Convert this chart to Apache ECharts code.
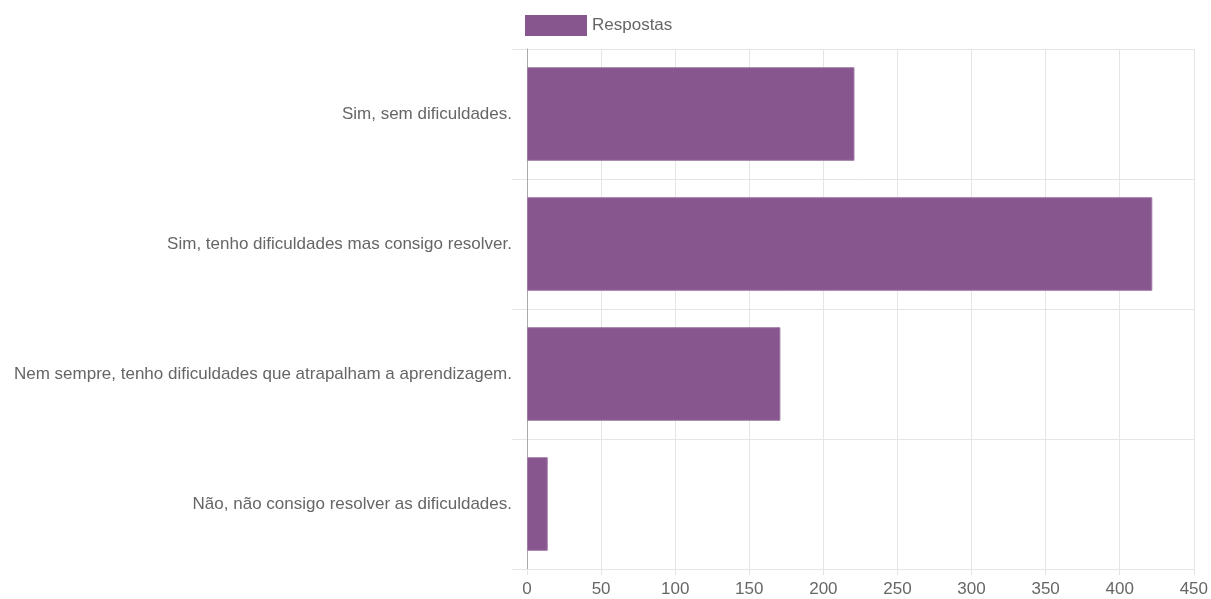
<!DOCTYPE html>
<html>
<head>
<meta charset="utf-8">
<script src="https://cdn.jsdelivr.net/npm/echarts@6/dist/echarts.min.js"></script>
<style>
  html, body { margin: 0; padding: 0; background: #fff; }
  #chart { width: 1211px; height: 599px; }
</style>
</head>
<body>
<div id="chart"></div>
<script>
// answers and counts
const categories = [
  'Sim, sem dificuldades.',
  'Sim, tenho dificuldades mas consigo resolver.',
  'Nem sempre, tenho dificuldades que atrapalham a aprendizagem.',
  'Não, não consigo resolver as dificuldades.'
];
const respostas = [221, 422, 171, 14];
const seriesName = 'Respostas';

const chart = echarts.init(document.getElementById('chart'));

const labelFont = { fontFamily: 'Liberation Sans, Arial, sans-serif', fontSize: 17, color: '#666' };

chart.setOption({
  animation: false,
  legend: {
    left: 525,
    top: 15,
    padding: 0,
    itemWidth: 62,
    itemHeight: 21,
    icon: 'rect',
    itemStyle: { borderWidth: 0 },
    textStyle: labelFont,
    data: [seriesName]
  },
  grid: { left: 527, right: 15, top: 49, bottom: 30, containLabel: false },
  xAxis: {
    type: 'value',
    min: 0,
    max: 450,
    interval: 50,
    axisLine: { show: true, lineStyle: { color: '#e5e5e5' } },
    axisTick: { show: true, length: 6, lineStyle: { color: '#e5e5e5' } },
    axisLabel: Object.assign({ margin: 12 }, labelFont),
    splitLine: { show: true, lineStyle: { color: '#e5e5e5' } }
  },
  yAxis: {
    type: 'category',
    inverse: true,
    data: categories,
    axisLine: { show: true, lineStyle: { color: '#aaa' } },
    axisTick: { show: true, length: 15, alignWithLabel: false, lineStyle: { color: '#e5e5e5' } },
    axisLabel: Object.assign({ margin: 15 }, labelFont),
    splitLine: { show: true, lineStyle: { color: '#e5e5e5' } }
  },
  series: [{
    name: seriesName,
    type: 'bar',
    data: respostas,
    barCategoryGap: '28%',
    itemStyle: { color: '#87568f', borderColor: '#a07aa6', borderWidth: 1 }
  }]
});
</script>
</body>
</html>
